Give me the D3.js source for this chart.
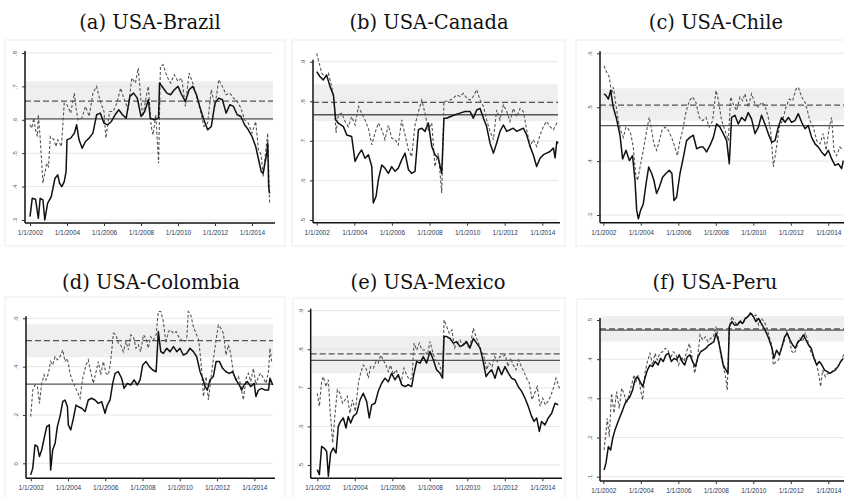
<!DOCTYPE html>
<html>
<head>
<meta charset="utf-8">
<script src="https://cdn.jsdelivr.net/npm/d3@7"></script>
<style>
  body { margin: 0; background: #fff; }
  svg { display: block; }
</style>
</head>
<body>
<svg id="chart" width="844" height="498"></svg>
<script>
// ---- Panel labels and axes ----
const titles = ["(a) USA-Brazil", "(b) USA-Canada", "(c) USA-Chile",
                "(d) USA-Colombia", "(e) USA-Mexico", "(f) USA-Peru"];
const xTickYears = [2002, 2004, 2006, 2008, 2010, 2012, 2014];
const yTickValues = [
  [0.3, 0.4, 0.5, 0.6, 0.7, 0.8],
  [0.5, 0.6, 0.7, 0.8, 0.9],
  [0.3, 0.4, 0.5, 0.6],
  [0, 0.2, 0.4, 0.6],
  [0.5, 0.6, 0.7, 0.8, 0.9],
  [0.1, 0.2, 0.3, 0.4, 0.5]
];

// ---- Reference levels per panel ----
const solidMean  = [0.603, 0.766, 0.466, 0.328, 0.771, 0.474];
const dashedMean = [0.656, 0.797, 0.504, 0.508, 0.788, 0.477];
const bandLow    = [0.600, 0.750, 0.475, 0.439, 0.738, 0.445];
const bandHigh   = [0.715, 0.843, 0.535, 0.575, 0.835, 0.510];

// ---- Series: [year, value] ----
const brazilSolid = [[2002.0,.31],[2002.12,.365],[2002.3,.362],[2002.45,.305],[2002.55,.365],[2002.7,.36],[2002.8,.30],[2002.95,.35],[2003.15,.37],[2003.35,.425],[2003.5,.435],[2003.6,.41],[2003.72,.40],[2003.85,.415],[2003.95,.445],[2004.0,.54],[2004.2,.545],[2004.4,.56],[2004.52,.585],[2004.65,.54],[2004.82,.515],[2005.0,.535],[2005.2,.545],[2005.4,.56],[2005.6,.615],[2005.8,.62],[2006.0,.59],[2006.2,.585],[2006.4,.595],[2006.6,.615],[2006.8,.63],[2007.0,.615],[2007.2,.605],[2007.4,.67],[2007.6,.68],[2007.8,.665],[2008.0,.61],[2008.2,.625],[2008.4,.66],[2008.5,.605],[2008.7,.60],[2008.95,.605],[2009.0,.71],[2009.2,.695],[2009.4,.68],[2009.6,.675],[2009.8,.69],[2010.0,.70],[2010.2,.675],[2010.4,.655],[2010.6,.69],[2010.8,.70],[2011.0,.675],[2011.2,.635],[2011.4,.60],[2011.6,.57],[2011.8,.58],[2012.0,.65],[2012.2,.665],[2012.4,.66],[2012.6,.62],[2012.8,.645],[2013.0,.64],[2013.2,.615],[2013.4,.61],[2013.6,.585],[2013.8,.57],[2014.0,.55],[2014.2,.52],[2014.4,.47],[2014.5,.445],[2014.6,.44],[2014.7,.47],[2014.8,.50],[2014.85,.53],[2014.9,.40],[2014.95,.38]];
const brazilDashed = [[2002.0,.585],[2002.1,.575],[2002.2,.605],[2002.3,.57],[2002.4,.55],[2002.45,.615],[2002.55,.545],[2002.7,.41],[2002.8,.44],[2002.9,.47],[2003.0,.46],[2003.1,.55],[2003.3,.54],[2003.4,.52],[2003.5,.54],[2003.7,.52],[2003.85,.65],[2004.0,.645],[2004.2,.62],[2004.4,.68],[2004.5,.63],[2004.6,.60],[2004.8,.605],[2005.0,.64],[2005.2,.61],[2005.4,.68],[2005.6,.70],[2005.8,.655],[2006.0,.625],[2006.1,.545],[2006.3,.625],[2006.5,.625],[2006.7,.65],[2006.9,.695],[2007.1,.66],[2007.3,.63],[2007.5,.725],[2007.7,.71],[2007.85,.755],[2008.0,.655],[2008.1,.61],[2008.3,.675],[2008.4,.70],[2008.55,.58],[2008.65,.555],[2008.8,.615],[2008.95,.47],[2009.05,.76],[2009.2,.765],[2009.4,.73],[2009.6,.71],[2009.8,.735],[2010.0,.715],[2010.2,.725],[2010.4,.64],[2010.6,.74],[2010.8,.71],[2011.0,.67],[2011.2,.63],[2011.4,.58],[2011.6,.59],[2011.8,.69],[2012.0,.64],[2012.2,.72],[2012.4,.70],[2012.6,.675],[2012.8,.68],[2013.0,.665],[2013.2,.655],[2013.4,.635],[2013.6,.60],[2013.8,.59],[2014.0,.56],[2014.2,.595],[2014.35,.51],[2014.5,.495],[2014.6,.43],[2014.75,.51],[2014.85,.56],[2014.9,.46],[2014.95,.35]];

const canadaSolid = [[2002.0,.875],[2002.18,.862],[2002.35,.854],[2002.53,.866],[2002.71,.837],[2002.89,.816],[2003.01,.753],[2003.15,.745],[2003.42,.736],[2003.6,.715],[2003.86,.711],[2004.04,.648],[2004.22,.665],[2004.39,.677],[2004.57,.656],[2004.75,.665],[2004.93,.635],[2005.01,.543],[2005.16,.56],[2005.28,.602],[2005.46,.639],[2005.63,.631],[2005.81,.618],[2005.99,.635],[2006.17,.623],[2006.34,.631],[2006.52,.652],[2006.7,.669],[2006.88,.627],[2007.05,.618],[2007.23,.623],[2007.41,.728],[2007.59,.732],[2007.76,.724],[2007.94,.745],[2008.12,.686],[2008.29,.665],[2008.47,.656],[2008.65,.618],[2008.77,.757],[2008.91,.757],[2009.09,.761],[2009.36,.766],[2009.62,.770],[2009.89,.774],[2010.16,.774],[2010.33,.757],[2010.51,.778],[2010.69,.782],[2010.87,.757],[2011.04,.736],[2011.22,.694],[2011.4,.669],[2011.57,.694],[2011.75,.724],[2011.93,.740],[2012.11,.724],[2012.28,.728],[2012.46,.732],[2012.64,.724],[2012.82,.728],[2012.99,.732],[2013.17,.715],[2013.35,.686],[2013.52,.665],[2013.7,.635],[2013.88,.656],[2014.06,.665],[2014.23,.669],[2014.41,.673],[2014.59,.682],[2014.68,.657],[2014.77,.698],[2014.85,.694]];
const canadaDashed = [[2002.0,.921],[2002.09,.904],[2002.27,.871],[2002.44,.862],[2002.62,.871],[2002.8,.837],[2002.92,.80],[2003.03,.72],[2003.15,.766],[2003.33,.77],[2003.51,.749],[2003.68,.736],[2003.86,.761],[2004.04,.740],[2004.22,.787],[2004.39,.770],[2004.57,.753],[2004.75,.732],[2004.93,.69],[2005.1,.72],[2005.28,.745],[2005.46,.728],[2005.63,.703],[2005.81,.740],[2005.99,.707],[2006.17,.703],[2006.34,.69],[2006.52,.753],[2006.7,.715],[2006.88,.677],[2007.05,.66],[2007.23,.740],[2007.41,.774],[2007.59,.803],[2007.76,.770],[2007.94,.728],[2008.12,.745],[2008.29,.635],[2008.47,.669],[2008.65,.568],[2008.77,.80],[2008.91,.80],[2009.09,.803],[2009.27,.808],[2009.45,.816],[2009.62,.812],[2009.8,.82],[2009.98,.808],[2010.16,.803],[2010.33,.812],[2010.51,.829],[2010.69,.803],[2010.87,.787],[2011.04,.753],[2011.22,.724],[2011.4,.703],[2011.57,.778],[2011.75,.753],[2011.93,.791],[2012.11,.774],[2012.28,.749],[2012.46,.782],[2012.64,.761],[2012.82,.782],[2012.99,.774],[2013.17,.728],[2013.35,.686],[2013.52,.703],[2013.7,.686],[2013.88,.715],[2014.06,.736],[2014.23,.749],[2014.41,.736],[2014.59,.728],[2014.77,.745],[2014.85,.740]];

const chileSolid = [[2002.04,.525],[2002.14,.522],[2002.27,.515],[2002.39,.531],[2002.53,.50],[2002.71,.478],[2002.89,.448],[2003.03,.404],[2003.21,.42],[2003.39,.401],[2003.56,.41],[2003.69,.364],[2003.78,.309],[2003.87,.293],[2003.99,.309],[2004.13,.32],[2004.28,.358],[2004.42,.389],[2004.58,.377],[2004.7,.364],[2004.84,.34],[2004.99,.352],[2005.16,.37],[2005.34,.377],[2005.52,.383],[2005.66,.377],[2005.77,.327],[2005.91,.333],[2006.09,.377],[2006.27,.407],[2006.44,.438],[2006.62,.444],[2006.8,.448],[2006.98,.423],[2007.16,.426],[2007.33,.426],[2007.51,.417],[2007.69,.429],[2007.87,.444],[2008.04,.469],[2008.22,.463],[2008.4,.451],[2008.58,.438],[2008.72,.395],[2008.84,.481],[2009.02,.485],[2009.2,.469],[2009.38,.481],[2009.56,.475],[2009.73,.49],[2009.91,.478],[2010.09,.451],[2010.27,.463],[2010.44,.485],[2010.62,.469],[2010.8,.451],[2010.98,.435],[2011.16,.438],[2011.33,.463],[2011.51,.481],[2011.69,.472],[2011.87,.481],[2012.04,.472],[2012.22,.475],[2012.4,.488],[2012.58,.472],[2012.76,.46],[2012.93,.466],[2013.11,.444],[2013.29,.432],[2013.47,.426],[2013.64,.417],[2013.82,.41],[2014.0,.42],[2014.18,.404],[2014.36,.392],[2014.53,.395],[2014.71,.386],[2014.8,.401]];
const chileDashed = [[2002.04,.577],[2002.18,.565],[2002.32,.556],[2002.44,.525],[2002.53,.537],[2002.68,.503],[2002.8,.475],[2002.92,.457],[2003.07,.444],[2003.21,.463],[2003.33,.46],[2003.46,.451],[2003.6,.426],[2003.72,.377],[2003.83,.364],[2003.96,.389],[2004.1,.414],[2004.22,.438],[2004.35,.463],[2004.45,.481],[2004.58,.457],[2004.7,.432],[2004.84,.42],[2004.99,.438],[2005.13,.457],[2005.29,.463],[2005.47,.457],[2005.64,.444],[2005.82,.426],[2005.95,.41],[2006.09,.438],[2006.23,.457],[2006.41,.491],[2006.59,.512],[2006.76,.519],[2006.94,.509],[2007.12,.481],[2007.3,.475],[2007.48,.481],[2007.65,.463],[2007.83,.475],[2008.01,.531],[2008.13,.515],[2008.31,.475],[2008.49,.457],[2008.67,.438],[2008.79,.519],[2008.93,.506],[2009.11,.494],[2009.29,.519],[2009.43,.512],[2009.56,.525],[2009.73,.50],[2009.91,.525],[2010.09,.506],[2010.27,.50],[2010.44,.509],[2010.62,.503],[2010.8,.481],[2010.94,.451],[2011.07,.389],[2011.21,.42],[2011.39,.463],[2011.56,.475],[2011.74,.50],[2011.92,.515],[2012.1,.512],[2012.28,.534],[2012.4,.537],[2012.58,.519],[2012.76,.509],[2012.88,.494],[2013.02,.475],[2013.2,.463],[2013.38,.438],[2013.56,.432],[2013.73,.451],[2013.88,.42],[2014.05,.463],[2014.18,.481],[2014.3,.42],[2014.44,.41],[2014.62,.426],[2014.8,.42]];

const colombiaSolid = [[2002.0,-.048],[2002.11,-.021],[2002.23,.076],[2002.36,.07],[2002.47,.028],[2002.59,.055],[2002.72,.103],[2002.86,.152],[2003.0,.159],[2003.07,-.028],[2003.18,.055],[2003.31,.083],[2003.43,.152],[2003.57,.193],[2003.72,.255],[2003.84,.262],[2003.97,.234],[2004.02,.159],[2004.15,.138],[2004.29,.186],[2004.43,.241],[2004.56,.234],[2004.74,.228],[2004.92,.214],[2005.09,.262],[2005.27,.269],[2005.45,.262],[2005.63,.248],[2005.81,.255],[2005.99,.207],[2006.11,.241],[2006.26,.262],[2006.4,.331],[2006.53,.372],[2006.7,.379],[2006.88,.352],[2007.01,.31],[2007.19,.331],[2007.37,.324],[2007.55,.345],[2007.72,.324],[2007.87,.345],[2008.01,.407],[2008.19,.421],[2008.37,.40],[2008.55,.386],[2008.73,.379],[2008.85,.545],[2008.98,.462],[2009.12,.455],[2009.3,.476],[2009.48,.462],[2009.66,.483],[2009.84,.462],[2010.01,.476],[2010.19,.448],[2010.37,.455],[2010.55,.476],[2010.73,.462],[2010.91,.441],[2011.09,.379],[2011.23,.352],[2011.36,.317],[2011.48,.303],[2011.62,.345],[2011.8,.359],[2011.95,.421],[2012.13,.421],[2012.3,.393],[2012.48,.379],[2012.66,.372],[2012.84,.379],[2013.02,.345],[2013.2,.324],[2013.32,.303],[2013.45,.324],[2013.63,.338],[2013.81,.317],[2013.99,.331],[2014.09,.276],[2014.22,.303],[2014.4,.31],[2014.58,.303],[2014.76,.303],[2014.84,.352],[2014.99,.324]];
const colombiaDashed = [[2002.0,.193],[2002.11,.303],[2002.23,.324],[2002.36,.317],[2002.47,.248],[2002.59,.331],[2002.72,.366],[2002.82,.345],[2002.95,.372],[2003.07,.421],[2003.18,.407],[2003.31,.441],[2003.43,.428],[2003.57,.441],[2003.72,.469],[2003.84,.421],[2003.97,.434],[2004.11,.372],[2004.25,.338],[2004.38,.317],[2004.5,.297],[2004.65,.269],[2004.79,.352],[2004.97,.407],[2005.09,.428],[2005.22,.379],[2005.36,.331],[2005.51,.379],[2005.63,.421],[2005.76,.366],[2005.9,.421],[2006.04,.372],[2006.17,.366],[2006.29,.421],[2006.44,.538],[2006.58,.531],[2006.7,.497],[2006.83,.49],[2006.97,.462],[2007.12,.503],[2007.24,.469],[2007.37,.531],[2007.51,.524],[2007.65,.476],[2007.78,.49],[2007.9,.462],[2008.05,.531],[2008.19,.517],[2008.31,.476],[2008.44,.524],[2008.58,.51],[2008.73,.531],[2008.85,.628],[2008.98,.628],[2009.12,.586],[2009.26,.497],[2009.39,.545],[2009.51,.552],[2009.66,.538],[2009.8,.545],[2009.94,.524],[2010.09,.51],[2010.23,.503],[2010.37,.51],[2010.46,.628],[2010.59,.614],[2010.73,.566],[2010.87,.538],[2011.02,.51],[2011.16,.40],[2011.27,.276],[2011.41,.359],[2011.54,.262],[2011.66,.345],[2011.8,.428],[2011.95,.51],[2012.07,.572],[2012.2,.559],[2012.34,.538],[2012.48,.448],[2012.61,.49],[2012.73,.455],[2012.88,.372],[2013.02,.345],[2013.15,.359],[2013.27,.324],[2013.41,.262],[2013.56,.352],[2013.68,.372],[2013.81,.338],[2013.95,.393],[2014.09,.324],[2014.22,.359],[2014.34,.372],[2014.49,.352],[2014.63,.331],[2014.76,.379],[2014.84,.476],[2014.93,.421]];

const mexicoSolid = [[2002.0,.488],[2002.11,.475],[2002.23,.548],[2002.36,.544],[2002.5,.535],[2002.59,.471],[2002.71,.531],[2002.85,.544],[2003.0,.531],[2003.12,.60],[2003.24,.613],[2003.39,.622],[2003.53,.596],[2003.65,.626],[2003.78,.609],[2003.92,.626],[2004.1,.634],[2004.28,.669],[2004.45,.686],[2004.63,.665],[2004.77,.622],[2004.9,.656],[2005.08,.66],[2005.25,.691],[2005.43,.712],[2005.61,.725],[2005.79,.716],[2005.96,.738],[2006.14,.721],[2006.32,.734],[2006.5,.708],[2006.68,.703],[2006.85,.708],[2007.03,.703],[2007.16,.738],[2007.3,.768],[2007.48,.764],[2007.65,.781],[2007.83,.764],[2008.01,.794],[2008.19,.772],[2008.36,.747],[2008.54,.738],[2008.68,.725],[2008.76,.833],[2008.9,.833],[2009.08,.828],[2009.25,.816],[2009.43,.82],[2009.61,.807],[2009.79,.811],[2009.96,.82],[2010.14,.803],[2010.32,.828],[2010.5,.816],[2010.68,.803],[2010.85,.768],[2011.0,.729],[2011.12,.738],[2011.3,.747],[2011.48,.725],[2011.65,.755],[2011.83,.734],[2012.01,.755],[2012.19,.738],[2012.36,.725],[2012.54,.721],[2012.72,.703],[2012.9,.691],[2013.08,.673],[2013.25,.652],[2013.43,.626],[2013.56,.613],[2013.7,.622],[2013.84,.587],[2013.96,.613],[2014.14,.604],[2014.32,.622],[2014.5,.634],[2014.68,.66],[2014.85,.656]];
const mexicoDashed = [[2002.0,.686],[2002.11,.652],[2002.23,.716],[2002.32,.729],[2002.46,.703],[2002.59,.721],[2002.68,.643],[2002.82,.557],[2002.94,.63],[2003.07,.695],[2003.21,.686],[2003.35,.66],[2003.48,.669],[2003.6,.678],[2003.74,.634],[2003.88,.669],[2004.03,.639],[2004.19,.712],[2004.31,.738],[2004.45,.759],[2004.6,.751],[2004.72,.725],[2004.84,.755],[2004.99,.751],[2005.13,.768],[2005.25,.764],[2005.38,.785],[2005.52,.772],[2005.66,.759],[2005.79,.742],[2005.91,.759],[2006.05,.734],[2006.2,.747],[2006.34,.729],[2006.48,.716],[2006.62,.751],[2006.76,.734],[2006.91,.721],[2007.05,.725],[2007.16,.816],[2007.3,.798],[2007.44,.816],[2007.58,.798],[2007.72,.798],[2007.87,.785],[2008.01,.82],[2008.15,.794],[2008.29,.772],[2008.44,.768],[2008.58,.751],[2008.68,.734],[2008.76,.876],[2008.9,.859],[2009.04,.841],[2009.18,.85],[2009.32,.803],[2009.47,.816],[2009.61,.824],[2009.75,.811],[2009.89,.82],[2010.04,.807],[2010.18,.816],[2010.32,.854],[2010.46,.833],[2010.6,.816],[2010.75,.794],[2010.89,.781],[2011.03,.747],[2011.17,.764],[2011.32,.755],[2011.46,.781],[2011.6,.768],[2011.74,.781],[2011.88,.781],[2012.03,.785],[2012.17,.755],[2012.31,.777],[2012.45,.759],[2012.6,.747],[2012.74,.772],[2012.88,.755],[2013.02,.742],[2013.16,.725],[2013.31,.712],[2013.45,.669],[2013.59,.686],[2013.73,.703],[2013.88,.652],[2014.02,.673],[2014.16,.656],[2014.3,.665],[2014.44,.678],[2014.59,.699],[2014.73,.725],[2014.85,.708],[2014.94,.695]];

const peruSolid = [[2002.04,.117],[2002.14,.134],[2002.27,.177],[2002.39,.168],[2002.5,.198],[2002.62,.219],[2002.75,.236],[2002.89,.253],[2003.03,.27],[2003.16,.287],[2003.28,.296],[2003.42,.304],[2003.56,.321],[2003.69,.347],[2003.81,.355],[2003.96,.343],[2004.1,.33],[2004.22,.351],[2004.35,.372],[2004.49,.385],[2004.63,.381],[2004.77,.394],[2004.92,.385],[2005.06,.402],[2005.2,.394],[2005.34,.411],[2005.48,.415],[2005.63,.394],[2005.77,.402],[2005.91,.398],[2006.05,.411],[2006.2,.394],[2006.34,.385],[2006.48,.406],[2006.62,.411],[2006.76,.394],[2006.91,.381],[2007.05,.406],[2007.19,.419],[2007.33,.423],[2007.48,.428],[2007.62,.436],[2007.76,.44],[2007.9,.445],[2008.01,.466],[2008.13,.449],[2008.26,.419],[2008.4,.385],[2008.54,.372],[2008.65,.364],[2008.72,.483],[2008.86,.496],[2009.0,.487],[2009.15,.487],[2009.29,.496],[2009.43,.491],[2009.57,.504],[2009.72,.509],[2009.86,.517],[2010.0,.509],[2010.14,.496],[2010.28,.504],[2010.43,.491],[2010.57,.479],[2010.71,.466],[2010.85,.449],[2011.0,.428],[2011.1,.402],[2011.24,.423],[2011.39,.411],[2011.53,.432],[2011.67,.457],[2011.81,.466],[2011.96,.449],[2012.1,.436],[2012.24,.428],[2012.38,.445],[2012.52,.449],[2012.67,.462],[2012.81,.449],[2012.95,.436],[2013.09,.428],[2013.24,.402],[2013.38,.385],[2013.52,.394],[2013.66,.385],[2013.8,.372],[2013.95,.368],[2014.09,.364],[2014.23,.368],[2014.37,.372],[2014.52,.381],[2014.66,.394],[2014.8,.402]];
const peruDashed = [[2002.04,.168],[2002.14,.211],[2002.21,.249],[2002.32,.202],[2002.44,.313],[2002.57,.262],[2002.71,.317],[2002.85,.274],[2002.98,.326],[2003.1,.313],[2003.24,.287],[2003.39,.313],[2003.51,.334],[2003.64,.36],[2003.74,.343],[2003.87,.36],[2003.99,.321],[2004.1,.296],[2004.22,.364],[2004.35,.394],[2004.49,.415],[2004.63,.385],[2004.76,.415],[2004.88,.398],[2005.02,.415],[2005.16,.419],[2005.31,.428],[2005.45,.423],[2005.59,.402],[2005.73,.419],[2005.88,.411],[2006.02,.385],[2006.16,.406],[2006.3,.394],[2006.44,.419],[2006.59,.44],[2006.73,.406],[2006.87,.364],[2007.01,.394],[2007.16,.462],[2007.3,.449],[2007.44,.457],[2007.58,.445],[2007.72,.453],[2007.87,.457],[2008.01,.483],[2008.13,.457],[2008.26,.411],[2008.4,.381],[2008.51,.36],[2008.61,.321],[2008.72,.483],[2008.86,.509],[2009.0,.496],[2009.15,.487],[2009.29,.50],[2009.43,.491],[2009.57,.50],[2009.72,.509],[2009.86,.521],[2010.0,.509],[2010.14,.513],[2010.28,.487],[2010.43,.504],[2010.57,.496],[2010.71,.483],[2010.85,.457],[2010.96,.44],[2011.07,.385],[2011.21,.394],[2011.35,.398],[2011.49,.428],[2011.64,.445],[2011.78,.47],[2011.92,.449],[2012.06,.419],[2012.2,.415],[2012.35,.436],[2012.49,.453],[2012.63,.445],[2012.77,.466],[2012.92,.445],[2013.06,.419],[2013.2,.406],[2013.34,.394],[2013.48,.364],[2013.59,.33],[2013.7,.372],[2013.84,.355],[2013.98,.364],[2014.12,.364],[2014.27,.372],[2014.41,.377],[2014.55,.385],[2014.69,.394],[2014.84,.415]];

const solidSeries  = [brazilSolid, canadaSolid, chileSolid, colombiaSolid, mexicoSolid, peruSolid];
const dashedSeries = [brazilDashed, canadaDashed, chileDashed, colombiaDashed, mexicoDashed, peruDashed];

// ---- Panel geometry (pixels) ----
const panels = [
  {frame:[5,40,280,206],   title:[150,29],  x2002:30,    x2014:252,   yBot:220,   yTop:53,    axisX:25,    axisY:223,   right:273},
  {frame:[292,40,273,206], title:[429,29],  x2002:316.7, x2014:542.3, yBot:220,   yTop:61.7,  axisX:313,   axisY:222.7, right:558},
  {frame:[576,40,275,206], title:[716,29],  x2002:603.3, x2014:828.3, yBot:215,   yTop:53.3,  axisX:600,   axisY:222.7, right:846},
  {frame:[5,297,280,210],  title:[151,289], x2002:30.7,  x2014:254.3, yBot:463.3, yTop:318.3, axisX:26,    axisY:478.3, right:273},
  {frame:[293,298,272,210],title:[428,289], x2002:317.3, x2014:542.3, yBot:465,   yTop:310.7, axisX:310.7, axisY:478.3, right:560},
  {frame:[577,299,275,210],title:[715,289], x2002:603.3, x2014:828.3, yBot:476.7, yTop:320,   axisX:600,   axisY:481,   right:846}
];

const svg = d3.select("#chart");
const fmtY = v => v === 0 ? "0" : d3.format(".1f")(v).replace(/^0/, "");

panels.forEach((p, i) => {
  const g = svg.append("g");
  const ticks = yTickValues[i];
  const x = d3.scaleLinear().domain([2002, 2014]).range([p.x2002, p.x2014]);
  const y = d3.scaleLinear().domain([d3.min(ticks), d3.max(ticks)]).range([p.yBot, p.yTop]);

  // panel frame
  g.append("rect")
    .attr("x", p.frame[0]).attr("y", p.frame[1])
    .attr("width", p.frame[2]).attr("height", p.frame[3])
    .attr("fill", "#fff").attr("stroke", "#ebebeb").attr("stroke-width", 1);

  // title
  svg.append("text")
    .attr("x", p.title[0]).attr("y", p.title[1])
    .attr("text-anchor", "middle")
    .attr("font-family", "'DejaVu Serif', 'Liberation Serif', serif")
    .attr("font-size", 19.5)
    .attr("fill", "#111")
    .text(titles[i]);

  // confidence band
  g.append("rect")
    .attr("x", p.axisX + 1).attr("y", y(bandHigh[i]))
    .attr("width", p.right - p.axisX - 1)
    .attr("height", y(bandLow[i]) - y(bandHigh[i]))
    .attr("fill", "#efefef");

  // gridlines
  g.selectAll("line.grid").data(ticks).join("line")
    .attr("class", "grid")
    .attr("x1", p.axisX).attr("x2", p.right)
    .attr("y1", d => y(d)).attr("y2", d => y(d))
    .attr("stroke", "#e6e6e6").attr("stroke-width", 1);

  // mean levels
  g.append("line")
    .attr("x1", p.axisX).attr("x2", p.right)
    .attr("y1", y(solidMean[i])).attr("y2", y(solidMean[i]))
    .attr("stroke", "#555").attr("stroke-width", 1.3);
  g.append("line")
    .attr("x1", p.axisX).attr("x2", p.right)
    .attr("y1", y(dashedMean[i])).attr("y2", y(dashedMean[i]))
    .attr("stroke", "#555").attr("stroke-width", 1.3)
    .attr("stroke-dasharray", "6,3");

  const line = d3.line().x(d => x(d[0])).y(d => y(d[1]));

  g.append("path").datum(dashedSeries[i])
    .attr("d", line).attr("fill", "none")
    .attr("stroke", "#555").attr("stroke-width", 1.1)
    .attr("stroke-dasharray", "3,2");
  g.append("path").datum(solidSeries[i])
    .attr("d", line).attr("fill", "none")
    .attr("stroke", "#111").attr("stroke-width", 1.5)
    .attr("stroke-linejoin", "round");

  // x axis
  const xa = g.append("g").attr("transform", `translate(0,${p.axisY})`)
    .call(d3.axisBottom(x).tickValues(xTickYears).tickFormat(d => "1/1/" + d).tickSize(3).tickSizeOuter(0));
  xa.select(".domain").attr("d", `M${p.axisX},0H${p.right + 2}`).attr("stroke", "#111").attr("stroke-width", 1.5);
  xa.selectAll(".tick line").attr("stroke", "#333");
  xa.selectAll("text")
    .attr("font-family", "'Liberation Sans', Arial, sans-serif")
    .attr("font-size", 6.5).attr("fill", "#2b3a5a").attr("dy", "0.9em");

  // y axis
  const ya = g.append("g").attr("transform", `translate(${p.axisX},0)`)
    .call(d3.axisLeft(y).tickValues(ticks).tickFormat(fmtY).tickSize(3).tickSizeOuter(0));
  ya.select(".domain").attr("d", `M0,${p.yTop - 2}V${p.axisY}`).attr("stroke", "#111").attr("stroke-width", 1.5);
  ya.selectAll(".tick line").attr("stroke", "#333");
  ya.selectAll("text")
    .attr("font-family", "'Liberation Sans', Arial, sans-serif")
    .attr("font-size", 6).attr("fill", "#4a5a78")
    .attr("text-anchor", "middle")
    .attr("transform", "rotate(-90)")
    .attr("x", 0).attr("y", -8).attr("dy", "0");
});
</script>
</body>
</html>
